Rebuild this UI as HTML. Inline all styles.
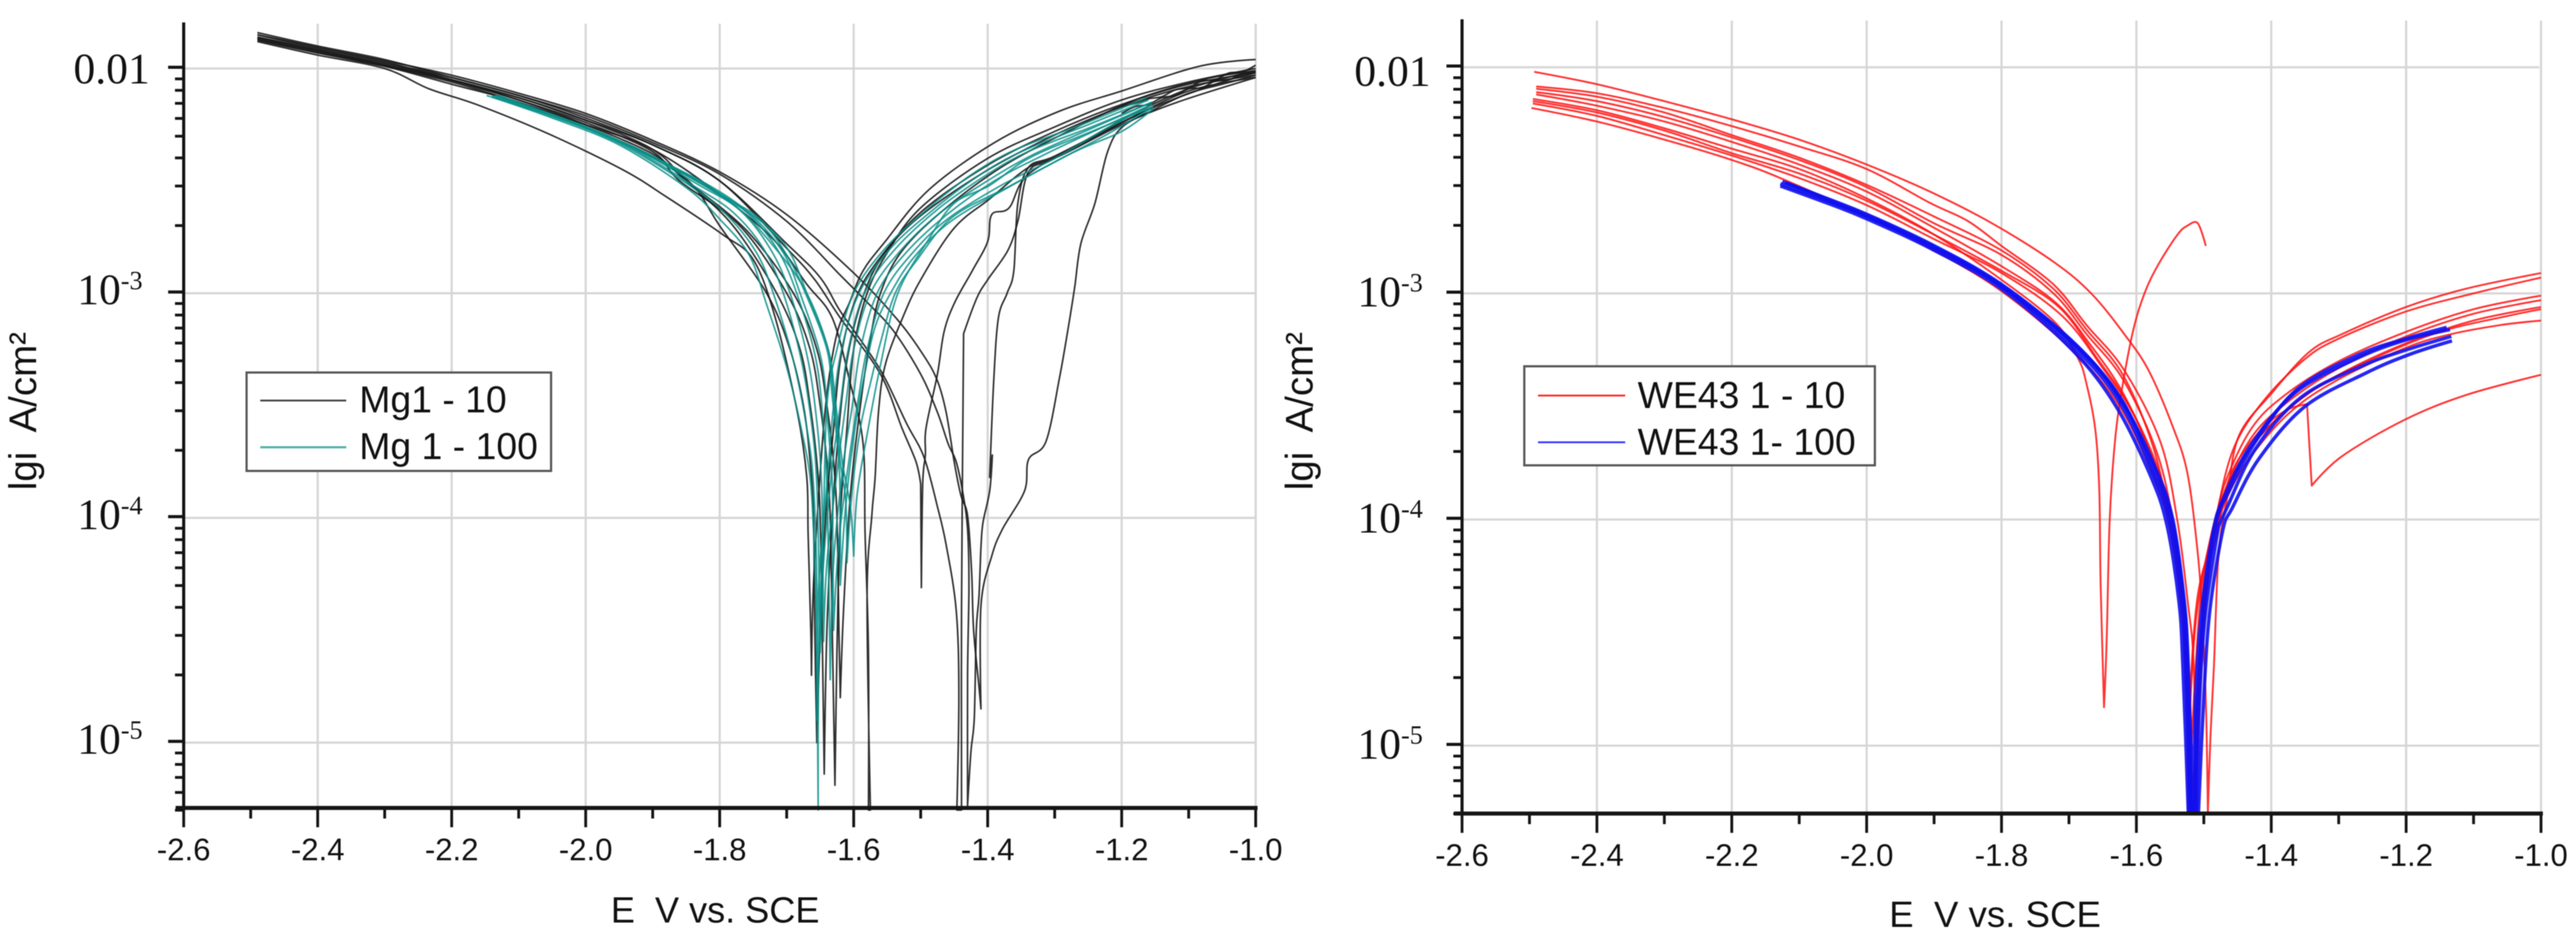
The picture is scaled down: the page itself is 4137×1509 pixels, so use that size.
<!DOCTYPE html>
<html lang="en">
<head>
<meta charset="utf-8">
<title>Polarization curves: Mg1 and WE43</title>
<style>
html,body{margin:0;padding:0;background:#fff;width:4137px;height:1509px;overflow:hidden}
svg{display:block;filter:blur(0.8px)}
text{fill:#111}
.sans{font-family:"Liberation Sans",sans-serif}
.serif{font-family:"Liberation Serif",serif}
.pre{white-space:pre}
</style>
</head>
<body>
<svg id="figure" xmlns="http://www.w3.org/2000/svg" width="4137" height="1509" viewBox="0 0 4137 1509">
  <g id="left-chart"></g>
  <g id="right-chart"></g>

  <text class="sans pre" x="981" y="1481" font-size="58" textLength="335" lengthAdjust="spacingAndGlyphs">E  V vs. SCE</text>
  <text class="sans pre" x="3034" y="1488" font-size="58" textLength="340" lengthAdjust="spacingAndGlyphs">E  V vs. SCE</text>
  <text class="sans pre" transform="translate(58 787) rotate(-90)" font-size="62" textLength="254" lengthAdjust="spacingAndGlyphs">lgi  A/cm²</text>
  <text class="sans pre" transform="translate(2108 787) rotate(-90)" font-size="62" textLength="254" lengthAdjust="spacingAndGlyphs">lgi  A/cm²</text>

  <g>
    <rect x="396" y="598" width="489" height="158" fill="#fff" stroke="#555" stroke-width="3.5"/>
    <line x1="418" y1="643" x2="556" y2="643" stroke="#444" stroke-width="3"/>
    <text class="sans" x="577" y="662" font-size="60">Mg1 - 10</text>
    <line x1="418" y1="718" x2="556" y2="718" stroke="#4fb0a8" stroke-width="3.5"/>
    <text class="sans" x="577" y="737" font-size="60">Mg 1 - 100</text>
  </g>
  <g>
    <rect x="2448" y="588" width="563" height="159" fill="#fff" stroke="#555" stroke-width="3.5"/>
    <line x1="2470" y1="635" x2="2610" y2="635" stroke="#ff2a2a" stroke-width="3"/>
    <text class="sans" x="2630" y="655" font-size="60">WE43 1 - 10</text>
    <line x1="2470" y1="710" x2="2610" y2="710" stroke="#3a3aff" stroke-width="3"/>
    <text class="sans" x="2630" y="730" font-size="60">WE43 1- 100</text>
  </g>
</svg>

<script>
// ---- shared axis data ----
const xMajorTicks = [-2.6,-2.4,-2.2,-2.0,-1.8,-1.6,-1.4,-1.2,-1.0];
const xMinorTicks = [-2.5,-2.3,-2.1,-1.9,-1.7,-1.5,-1.3,-1.1];
const xTickLabels = ["-2.6","-2.4","-2.2","-2.0","-1.8","-1.6","-1.4","-1.2","-1.0"];
const yMajorTicks = [-2,-3,-4,-5];
const yTickBases = ["0.01","10","10","10"];
const yTickExponents = ["","-3","-4","-5"];
const yMinorTicks = [
  -2.046,-2.097,-2.155,-2.222,-2.301,-2.398,-2.523,-2.699,
  -3.046,-3.097,-3.155,-3.222,-3.301,-3.398,-3.523,-3.699,
  -4.046,-4.097,-4.155,-4.222,-4.301,-4.398,-4.523,-4.699,
  -5.046,-5.097,-5.155,-5.222,-5.301
];

// ---- Mg1 - 10 series: [E, lg i] ----
const mg10a = [[-2.49,-1.85],[-2.4,-1.905],[-2.3,-1.965],[-2.2,-2.03],[-2.1,-2.11],[-2,-2.2],[-1.9,-2.32],[-1.8,-2.46],[-1.7,-2.65],[-1.6,-2.91],[-1.534,-3.12],[-1.495,-3.28],[-1.475,-3.39],[-1.462,-3.53],[-1.45,-3.75],[-1.44,-3.9],[-1.43,-3.99],[-1.424,-4.24],[-1.421,-4.5],[-1.413,-4.75],[-1.41,-4.85],[-1.41,-4.39],[-1.394,-4.17],[-1.378,-4.05],[-1.345,-3.88],[-1.339,-3.74],[-1.313,-3.66],[-1.293,-3.38],[-1.279,-3.14],[-1.27,-2.97],[-1.261,-2.78],[-1.24,-2.6],[-1.221,-2.37],[-1.199,-2.26],[-1.15,-2.18],[-1.1,-2.11],[-1.05,-2.07],[-1,-2.03]];
const mg10b = [[-2.49,-1.86],[-2.4,-1.915],[-2.3,-1.975],[-2.2,-2.04],[-2.1,-2.12],[-2,-2.21],[-1.9,-2.33],[-1.8,-2.47],[-1.7,-2.68],[-1.62,-2.92],[-1.58,-3.04],[-1.54,-3.17],[-1.5,-3.36],[-1.475,-3.53],[-1.459,-3.67],[-1.447,-3.75],[-1.437,-3.89],[-1.43,-4.05],[-1.428,-4.3],[-1.43,-4.7],[-1.43,-5.28],[-1.425,-5.04],[-1.42,-4.89],[-1.417,-4.5],[-1.413,-4.35],[-1.41,-4.13],[-1.407,-4.02],[-1.397,-3.88],[-1.393,-3.72],[-1.397,-3.82],[-1.391,-3.39],[-1.384,-3.11],[-1.371,-3],[-1.361,-2.9],[-1.355,-2.6],[-1.339,-2.44],[-1.3,-2.39],[-1.2,-2.24],[-1.1,-2.1],[-1,-2.04]];
const mg10c = [[-2.49,-1.87],[-2.4,-1.925],[-2.3,-1.985],[-2.2,-2.05],[-2.1,-2.13],[-2,-2.23],[-1.9,-2.34],[-1.8,-2.5],[-1.7,-2.78],[-1.65,-2.93],[-1.62,-3.08],[-1.58,-3.25],[-1.553,-3.38],[-1.521,-3.58],[-1.495,-3.73],[-1.475,-3.95],[-1.462,-4.12],[-1.447,-4.41],[-1.443,-4.78],[-1.446,-5.3],[-1.439,-5.3],[-1.439,-4.4],[-1.436,-3.18],[-1.416,-3.02],[-1.4,-2.94],[-1.37,-2.81],[-1.355,-2.68],[-1.339,-2.46],[-1.3,-2.4],[-1.2,-2.23],[-1.1,-2.09],[-1,-2.01]];
const mg10d = [[-2.49,-1.84],[-2.4,-1.9],[-2.3,-1.96],[-2.2,-2.04],[-2.1,-2.12],[-2,-2.22],[-1.9,-2.34],[-1.8,-2.5],[-1.7,-2.8],[-1.658,-2.94],[-1.62,-3.11],[-1.56,-3.36],[-1.528,-3.6],[-1.507,-3.75],[-1.5,-3.85],[-1.499,-4.31],[-1.497,-3.85],[-1.493,-3.72],[-1.492,-3.6],[-1.475,-3.36],[-1.465,-3.17],[-1.449,-3.04],[-1.423,-2.9],[-1.4,-2.77],[-1.394,-2.65],[-1.368,-2.62],[-1.339,-2.47],[-1.25,-2.32],[-1.15,-2.17],[-1.05,-2.06],[-1,-2.02]];
const mg10e = [[-2.49,-1.875],[-2.4,-1.93],[-2.3,-1.99],[-2.2,-2.06],[-2.1,-2.15],[-2,-2.25],[-1.9,-2.36],[-1.8,-2.56],[-1.72,-2.76],[-1.67,-2.96],[-1.632,-3.11],[-1.606,-3.39],[-1.586,-3.67],[-1.583,-4.07],[-1.578,-4.6],[-1.578,-5.3],[-1.575,-5.3],[-1.58,-4.35],[-1.573,-3.99],[-1.568,-3.82],[-1.563,-3.53],[-1.553,-3.32],[-1.527,-3.11],[-1.5,-2.94],[-1.45,-2.71],[-1.397,-2.58],[-1.339,-2.44],[-1.293,-2.39],[-1.2,-2.25],[-1.117,-2.15],[-1,-2.04]];
const mg10f = [[-2.49,-1.88],[-2.4,-1.94],[-2.3,-2],[-2.234,-2.09],[-2.163,-2.16],[-2.056,-2.29],[-1.945,-2.45],[-1.88,-2.57],[-1.795,-2.74],[-1.75,-2.85],[-1.717,-3.11],[-1.684,-3.53],[-1.67,-3.82],[-1.668,-4.07],[-1.664,-4.5],[-1.663,-4.7],[-1.66,-4.3],[-1.65,-3.8],[-1.64,-3.45],[-1.625,-3.18],[-1.606,-3.04],[-1.586,-2.9],[-1.553,-2.77],[-1.488,-2.54],[-1.39,-2.33],[-1.293,-2.19],[-1.2,-2.1],[-1.084,-1.99],[-1,-1.96]];
const mg10g = [[-2.49,-1.86],[-2.4,-1.92],[-2.3,-1.98],[-2.2,-2.05],[-2.1,-2.14],[-2,-2.24],[-1.9,-2.37],[-1.86,-2.5],[-1.77,-2.7],[-1.7,-3],[-1.665,-3.25],[-1.65,-3.5],[-1.64,-3.75],[-1.635,-4],[-1.632,-4.5],[-1.628,-5.19],[-1.625,-4.6],[-1.62,-4],[-1.61,-3.6],[-1.6,-3.25],[-1.58,-3],[-1.55,-2.82],[-1.5,-2.62],[-1.4,-2.4],[-1.3,-2.26],[-1.2,-2.14],[-1.1,-2.06],[-1,-2]];
const mg10h = [[-2.49,-1.85],[-2.4,-1.91],[-2.3,-1.97],[-2.2,-2.05],[-2.1,-2.13],[-2,-2.23],[-1.9,-2.36],[-1.85,-2.5],[-1.78,-2.7],[-1.715,-3],[-1.68,-3.25],[-1.665,-3.5],[-1.655,-3.75],[-1.65,-4],[-1.647,-4.5],[-1.644,-5.14],[-1.64,-4.5],[-1.632,-4],[-1.622,-3.6],[-1.61,-3.3],[-1.59,-3.05],[-1.56,-2.85],[-1.5,-2.64],[-1.4,-2.43],[-1.3,-2.28],[-1.2,-2.16],[-1.1,-2.07],[-1,-2.02]];
const mg10i = [[-2.49,-1.87],[-2.4,-1.93],[-2.3,-1.99],[-2.2,-2.07],[-2.1,-2.15],[-2,-2.26],[-1.9,-2.39],[-1.84,-2.52],[-1.8,-2.7],[-1.73,-3],[-1.695,-3.25],[-1.675,-3.5],[-1.665,-3.75],[-1.66,-4],[-1.658,-4.5],[-1.655,-5],[-1.65,-4.5],[-1.642,-4],[-1.63,-3.6],[-1.62,-3.3],[-1.6,-3.05],[-1.57,-2.88],[-1.51,-2.68],[-1.41,-2.47],[-1.31,-2.31],[-1.2,-2.17],[-1.1,-2.08],[-1,-2.03]];
const mg10j = [[-2.49,-1.865],[-2.4,-1.92],[-2.3,-1.985],[-2.2,-2.055],[-2.1,-2.14],[-2,-2.25],[-1.9,-2.38],[-1.85,-2.5],[-1.76,-2.72],[-1.69,-3],[-1.655,-3.25],[-1.64,-3.5],[-1.63,-3.75],[-1.625,-4],[-1.622,-4.5],[-1.62,-4.8],[-1.615,-4.4],[-1.605,-3.9],[-1.59,-3.5],[-1.575,-3.2],[-1.56,-3],[-1.53,-2.82],[-1.47,-2.64],[-1.38,-2.44],[-1.28,-2.28],[-1.18,-2.14],[-1.08,-2.05],[-1,-2.01]];
const mg10k = [[-1.2,-2.17],[-1.18,-2.155],[-1.16,-2.135],[-1.14,-2.125],[-1.12,-2.095],[-1.1,-2.085],[-1.08,-2.055],[-1.06,-2.05],[-1.04,-2.02],[-1.02,-2.015],[-1,-1.985]];
const mg10l = [[-1.2,-2.2],[-1.18,-2.17],[-1.16,-2.16],[-1.14,-2.13],[-1.12,-2.12],[-1.1,-2.09],[-1.08,-2.085],[-1.06,-2.055],[-1.04,-2.05],[-1.02,-2.025],[-1,-2.015]];

// ---- Mg 1 - 100 series ----
const mg100a = [[-2.148,-2.12],[-2.05,-2.22],[-1.95,-2.34],[-1.85,-2.53],[-1.8,-2.67],[-1.756,-2.83],[-1.73,-3.05],[-1.7,-3.33],[-1.677,-3.62],[-1.664,-3.85],[-1.658,-4.21],[-1.655,-4.6],[-1.653,-5.3],[-1.652,-4.6],[-1.645,-4],[-1.64,-3.5],[-1.625,-3.25],[-1.6,-3],[-1.553,-2.8],[-1.488,-2.62],[-1.423,-2.47],[-1.358,-2.36],[-1.26,-2.25],[-1.163,-2.13]];
const mg100b = [[-2.14,-2.12],[-2.04,-2.22],[-1.945,-2.34],[-1.845,-2.52],[-1.79,-2.65],[-1.745,-2.82],[-1.72,-3],[-1.69,-3.3],[-1.67,-3.6],[-1.66,-3.85],[-1.655,-4.3],[-1.655,-4.9],[-1.652,-4.3],[-1.64,-3.85],[-1.63,-3.5],[-1.618,-3.25],[-1.592,-3],[-1.545,-2.8],[-1.482,-2.63],[-1.415,-2.48],[-1.35,-2.37],[-1.25,-2.25],[-1.16,-2.14]];
const mg100c = [[-2.135,-2.12],[-2.03,-2.23],[-1.935,-2.35],[-1.84,-2.52],[-1.78,-2.64],[-1.735,-2.8],[-1.705,-3],[-1.678,-3.3],[-1.662,-3.6],[-1.655,-3.85],[-1.652,-4.2],[-1.65,-4.6],[-1.645,-4.2],[-1.633,-3.8],[-1.62,-3.5],[-1.608,-3.25],[-1.584,-3],[-1.54,-2.81],[-1.476,-2.63],[-1.405,-2.48],[-1.34,-2.37],[-1.245,-2.26],[-1.155,-2.15]];
const mg100d = [[-2.135,-2.13],[-2.02,-2.24],[-1.925,-2.36],[-1.83,-2.52],[-1.77,-2.63],[-1.725,-2.8],[-1.695,-3],[-1.668,-3.3],[-1.654,-3.6],[-1.648,-3.85],[-1.646,-4.2],[-1.645,-4.55],[-1.64,-4.2],[-1.625,-3.8],[-1.612,-3.5],[-1.6,-3.25],[-1.575,-3],[-1.53,-2.81],[-1.47,-2.64],[-1.395,-2.49],[-1.33,-2.38],[-1.24,-2.26],[-1.155,-2.15]];
const mg100e = [[-2.14,-2.125],[-2.015,-2.25],[-1.915,-2.37],[-1.82,-2.52],[-1.76,-2.64],[-1.715,-2.8],[-1.685,-3],[-1.656,-3.3],[-1.645,-3.6],[-1.64,-3.85],[-1.637,-4.3],[-1.635,-4.72],[-1.63,-4.2],[-1.615,-3.75],[-1.602,-3.5],[-1.59,-3.25],[-1.565,-3],[-1.525,-2.83],[-1.465,-2.66],[-1.39,-2.5],[-1.32,-2.39],[-1.235,-2.27],[-1.155,-2.16]];
const mg100f = [[-2.135,-2.12],[-2.01,-2.25],[-1.91,-2.38],[-1.81,-2.53],[-1.75,-2.66],[-1.705,-2.82],[-1.68,-3],[-1.648,-3.3],[-1.638,-3.6],[-1.632,-3.85],[-1.631,-4.2],[-1.63,-4.5],[-1.622,-4.1],[-1.605,-3.7],[-1.592,-3.45],[-1.58,-3.25],[-1.555,-3],[-1.515,-2.83],[-1.46,-2.67],[-1.38,-2.52],[-1.3,-2.4],[-1.23,-2.28],[-1.155,-2.16]];
const mg100g = [[-2.13,-2.12],[-2,-2.26],[-1.9,-2.39],[-1.8,-2.56],[-1.74,-2.67],[-1.7,-2.83],[-1.672,-3],[-1.64,-3.25],[-1.632,-3.46],[-1.622,-3.75],[-1.62,-4],[-1.62,-4.3],[-1.612,-3.95],[-1.598,-3.6],[-1.583,-3.35],[-1.568,-3.15],[-1.545,-3],[-1.51,-2.84],[-1.455,-2.68],[-1.37,-2.53],[-1.29,-2.4],[-1.22,-2.29],[-1.153,-2.17]];
const mg100h = [[-2.13,-2.125],[-2,-2.265],[-1.9,-2.395],[-1.79,-2.58],[-1.73,-2.7],[-1.695,-2.82],[-1.67,-3],[-1.638,-3.25],[-1.63,-3.46],[-1.62,-3.75],[-1.612,-3.92],[-1.61,-4.2],[-1.603,-3.9],[-1.59,-3.6],[-1.575,-3.4],[-1.56,-3.22],[-1.538,-3],[-1.505,-2.85],[-1.452,-2.66],[-1.365,-2.52],[-1.27,-2.37],[-1.2,-2.28],[-1.153,-2.18]];
const mg100i = [[-2.125,-2.13],[-1.99,-2.27],[-1.89,-2.41],[-1.782,-2.6],[-1.717,-2.8],[-1.67,-3],[-1.638,-3.25],[-1.628,-3.46],[-1.617,-3.75],[-1.605,-3.95],[-1.6,-4.17],[-1.595,-3.9],[-1.58,-3.63],[-1.56,-3.32],[-1.534,-3],[-1.488,-2.76],[-1.45,-2.6],[-1.397,-2.52],[-1.339,-2.4],[-1.253,-2.29],[-1.153,-2.17]];

// ---- WE43 1 - 10 series ----
const we10a = [[-2.493,-2.02],[-2.4,-2.075],[-2.3,-2.15],[-2.2,-2.23],[-2.1,-2.32],[-2,-2.43],[-1.906,-2.55],[-1.814,-2.69],[-1.723,-2.86],[-1.667,-3],[-1.618,-3.18],[-1.582,-3.34],[-1.546,-3.59],[-1.524,-3.8],[-1.509,-4.15],[-1.503,-4.4],[-1.497,-4.8],[-1.494,-5.3],[-1.49,-4.95],[-1.485,-4.65],[-1.478,-4.15],[-1.465,-3.9],[-1.448,-3.63],[-1.399,-3.44],[-1.344,-3.26],[-1.295,-3.18],[-1.2,-3.06],[-1.112,-2.98],[-1,-2.91]];
const we10b = [[-2.49,-2.085],[-2.4,-2.115],[-2.3,-2.18],[-2.2,-2.26],[-2.1,-2.35],[-2,-2.45],[-1.906,-2.6],[-1.85,-2.68],[-1.8,-2.79],[-1.723,-2.96],[-1.674,-3.14],[-1.618,-3.34],[-1.564,-3.66],[-1.539,-4.01],[-1.524,-4.36],[-1.515,-4.65],[-1.512,-5.3],[-1.505,-4.7],[-1.495,-4.3],[-1.48,-3.97],[-1.455,-3.68],[-1.41,-3.47],[-1.35,-3.29],[-1.3,-3.2],[-1.2,-3.08],[-1.1,-3],[-1,-2.93]];
const we10c = [[-2.49,-2.11],[-2.4,-2.15],[-2.3,-2.22],[-2.2,-2.31],[-2.1,-2.41],[-2,-2.53],[-1.9,-2.69],[-1.8,-2.83],[-1.723,-3],[-1.674,-3.18],[-1.62,-3.38],[-1.57,-3.7],[-1.545,-4.02],[-1.53,-4.36],[-1.522,-4.7],[-1.517,-5.3],[-1.51,-4.9],[-1.5,-4.3],[-1.485,-4.05],[-1.47,-3.85],[-1.43,-3.6],[-1.38,-3.45],[-1.3,-3.3],[-1.2,-3.17],[-1.1,-3.07],[-1,-3.01]];
const we10d = [[-2.49,-2.095],[-2.4,-2.13],[-2.3,-2.2],[-2.2,-2.3],[-2.1,-2.4],[-2,-2.52],[-1.9,-2.66],[-1.8,-2.81],[-1.723,-2.98],[-1.674,-3.16],[-1.62,-3.36],[-1.575,-3.68],[-1.55,-4.02],[-1.535,-4.36],[-1.525,-4.7],[-1.52,-5.3],[-1.512,-5],[-1.5,-4.35],[-1.48,-4.05],[-1.46,-3.8],[-1.42,-3.62],[-1.38,-3.52],[-1.347,-3.49],[-1.34,-3.85],[-1.295,-3.72],[-1.203,-3.56],[-1.112,-3.45],[-1,-3.36]];
const we10e = [[-2.495,-2.14],[-2.4,-2.19],[-2.3,-2.27],[-2.2,-2.36],[-2.1,-2.45],[-2,-2.58],[-1.9,-2.74],[-1.8,-2.94],[-1.72,-3.13],[-1.686,-3.29],[-1.674,-3.4],[-1.661,-3.6],[-1.655,-3.87],[-1.653,-4.29],[-1.648,-4.83],[-1.644,-4.53],[-1.64,-4.03],[-1.634,-3.73],[-1.625,-3.49],[-1.606,-3.18],[-1.588,-3],[-1.567,-2.87],[-1.539,-2.74],[-1.524,-2.7],[-1.509,-2.69],[-1.497,-2.79]];
const we10f = [[-2.49,-2.12],[-2.4,-2.17],[-2.3,-2.24],[-2.2,-2.33],[-2.1,-2.43],[-2,-2.55],[-1.9,-2.71],[-1.8,-2.88],[-1.72,-3.04],[-1.67,-3.22],[-1.62,-3.44],[-1.575,-3.74],[-1.55,-4.04],[-1.533,-4.4],[-1.526,-4.8],[-1.523,-5.3],[-1.515,-4.8],[-1.505,-4.35],[-1.49,-4.08],[-1.47,-3.88],[-1.43,-3.64],[-1.38,-3.49],[-1.3,-3.33],[-1.2,-3.19],[-1.1,-3.09],[-1,-3.03]];
const we10g = [[-2.497,-2.18],[-2.4,-2.24],[-2.3,-2.32],[-2.2,-2.41],[-2.128,-2.49],[-2,-2.66],[-1.906,-2.8],[-1.8,-2.99],[-1.692,-3.26],[-1.625,-3.5],[-1.576,-3.8],[-1.551,-4.02],[-1.533,-4.37],[-1.527,-4.66],[-1.522,-5.3],[-1.515,-5.3],[-1.505,-4.6],[-1.49,-4.15],[-1.47,-3.92],[-1.43,-3.68],[-1.37,-3.5],[-1.3,-3.36],[-1.2,-3.22],[-1.1,-3.12],[-1,-3.06]];
const we10h = [[-2.495,-2.16],[-2.4,-2.215],[-2.3,-2.3],[-2.2,-2.39],[-2.1,-2.49],[-2,-2.61],[-1.9,-2.76],[-1.8,-2.91],[-1.71,-3.1],[-1.65,-3.33],[-1.6,-3.56],[-1.56,-3.88],[-1.54,-4.2],[-1.528,-4.6],[-1.524,-5.1],[-1.518,-4.7],[-1.51,-4.4],[-1.495,-4.15],[-1.47,-3.9],[-1.44,-3.72],[-1.39,-3.55],[-1.33,-3.41],[-1.25,-3.29],[-1.15,-3.17],[-1.05,-3.1],[-1,-3.07]];
const we10i = [[-2.495,-2.15],[-2.4,-2.2],[-2.3,-2.28],[-2.2,-2.38],[-2.1,-2.47],[-2,-2.59],[-1.9,-2.74],[-1.8,-2.9],[-1.715,-3.06],[-1.66,-3.28],[-1.61,-3.5],[-1.565,-3.8],[-1.54,-4.12],[-1.527,-4.5],[-1.522,-4.9],[-1.516,-4.55],[-1.507,-4.3],[-1.49,-4.12],[-1.465,-3.9],[-1.43,-3.72],[-1.37,-3.52],[-1.3,-3.38],[-1.2,-3.24],[-1.133,-3.18],[-1.06,-3.14],[-1,-3.12]];

// ---- WE43 1 - 100 series ----
const we100a = [[-2.128,-2.515],[-2.05,-2.6],[-2,-2.66],[-1.906,-2.79],[-1.8,-2.97],[-1.692,-3.24],[-1.625,-3.48],[-1.576,-3.79],[-1.551,-4.01],[-1.533,-4.36],[-1.527,-4.65],[-1.52,-5.3],[-1.511,-5.3],[-1.506,-4.78],[-1.497,-4.4],[-1.478,-4.03],[-1.466,-3.95],[-1.424,-3.69],[-1.356,-3.46],[-1.265,-3.32],[-1.2,-3.25],[-1.133,-3.19]];
const we100b = [[-2.125,-2.505],[-2.05,-2.59],[-2,-2.65],[-1.906,-2.78],[-1.8,-2.96],[-1.692,-3.22],[-1.625,-3.46],[-1.572,-3.77],[-1.546,-4],[-1.529,-4.36],[-1.523,-4.65],[-1.516,-5.3],[-1.515,-5.3],[-1.512,-4.78],[-1.503,-4.4],[-1.486,-4.05],[-1.47,-3.9],[-1.43,-3.67],[-1.365,-3.44],[-1.275,-3.29],[-1.205,-3.21],[-1.135,-3.16]];
const we100c = [[-2.128,-2.525],[-2.05,-2.61],[-2,-2.67],[-1.906,-2.8],[-1.8,-2.98],[-1.695,-3.25],[-1.63,-3.5],[-1.58,-3.8],[-1.555,-4.02],[-1.537,-4.36],[-1.531,-4.65],[-1.523,-5.3],[-1.508,-5.3],[-1.5,-4.78],[-1.491,-4.4],[-1.472,-4.05],[-1.458,-3.95],[-1.418,-3.73],[-1.35,-3.5],[-1.258,-3.35],[-1.195,-3.27],[-1.132,-3.21]];
const we100d = [[-2.12,-2.51],[-2.05,-2.595],[-2,-2.655],[-1.906,-2.785],[-1.8,-2.965],[-1.69,-3.23],[-1.622,-3.47],[-1.574,-3.78],[-1.548,-4],[-1.53,-4.36],[-1.525,-4.65],[-1.518,-5.3],[-1.513,-5.3],[-1.509,-4.78],[-1.5,-4.4],[-1.482,-4.02],[-1.462,-3.87],[-1.42,-3.64],[-1.36,-3.42],[-1.27,-3.27],[-1.2,-3.2],[-1.14,-3.15]];

// ---- drawing ----
const SVG_NS = "http://www.w3.org/2000/svg";

function scaleX(layout, e) { return layout.xLeft + (e + 2.6) * layout.xPerVolt; }
function scaleY(layout, lg) { return layout.yTop + (-2 - lg) * layout.yPerDecade; }

function makeLine(parent, x1, y1, x2, y2, stroke, width) {
  const l = document.createElementNS(SVG_NS, "line");
  l.setAttribute("x1", x1); l.setAttribute("y1", y1);
  l.setAttribute("x2", x2); l.setAttribute("y2", y2);
  l.setAttribute("stroke", stroke); l.setAttribute("stroke-width", width);
  parent.appendChild(l);
  return l;
}

function makeMarks(parent, d, width) {
  const p = document.createElementNS(SVG_NS, "path");
  p.setAttribute("d", d);
  p.setAttribute("fill", "none");
  p.setAttribute("stroke", "#141414");
  p.setAttribute("stroke-width", width);
  parent.appendChild(p);
  return p;
}

// Smooth only gentle bends; sharp reversals keep a corner.
function curvePath(points) {
  let d = "M" + points[0][0].toFixed(1) + " " + points[0][1].toFixed(1);
  function tangent(i) {
    const prev = points[Math.max(i - 1, 0)], cur = points[i], next = points[Math.min(i + 1, points.length - 1)];
    const ax = cur[0] - prev[0], ay = cur[1] - prev[1], bx = next[0] - cur[0], by = next[1] - cur[1];
    if (ax * bx + ay * by <= 0) return [0, 0];
    const la = Math.hypot(ax, ay), lb = Math.hypot(bx, by);
    if (la > 4 * lb || lb > 4 * la) return [0, 0];
    return [(next[0] - prev[0]) / 6, (next[1] - prev[1]) / 6];
  }
  for (let i = 0; i < points.length - 1; i++) {
    const t0 = tangent(i), t1 = tangent(i + 1), p0 = points[i], p1 = points[i + 1];
    d += "C" + (p0[0] + t0[0]).toFixed(1) + " " + (p0[1] + t0[1]).toFixed(1) + " " +
         (p1[0] - t1[0]).toFixed(1) + " " + (p1[1] - t1[1]).toFixed(1) + " " +
         p1[0].toFixed(1) + " " + p1[1].toFixed(1);
  }
  return d;
}

function drawGrid(g, layout) {
  xMajorTicks.slice(1).forEach(function (v) {
    const px = scaleX(layout, v);
    const line = makeLine(g, px, layout.gridTop, px, layout.axisY, "#d6d6d6", 3.5);
    
    
  });
  yMajorTicks.forEach(function (v) {
    const py = scaleY(layout, v);
    const line = makeLine(g, layout.xLeft, py, layout.gridRight, py, "#d6d6d6", 3.5);
    
    
  });
}

function drawSeries(g, layout, curves, color, width, opacity, label) {
  curves.forEach(function (curve) {
    const p = document.createElementNS(SVG_NS, "path");
    const pts = curve.map(function (pt) { return [scaleX(layout, pt[0]), scaleY(layout, pt[1])]; });
    p.setAttribute("d", curvePath(pts));
    p.setAttribute("fill", "none");
    p.setAttribute("stroke", color);
    p.setAttribute("stroke-width", width);
    p.setAttribute("stroke-opacity", opacity);
    p.setAttribute("stroke-linejoin", "round");
    
    
    g.appendChild(p);
  });
}

function drawAxes(g, layout) {
  const xRight = scaleX(layout, -1.0);
  const yAxis = makeMarks(g, "M" + layout.xLeft + " " + layout.axisTop + "V" + (layout.axisY + 3), 5);
  
  
  const xAxis = makeMarks(g, "M" + (layout.xLeft - 13) + " " + layout.axisY + "H" + (xRight + 3), 6.5);
  
  

  let xMajorD = "", xMinorD = "", yMajorD = "", yMinorD = "";
  xMajorTicks.forEach(function (v) { xMajorD += "M" + scaleX(layout, v) + " " + layout.axisY + "v31"; });
  xMinorTicks.forEach(function (v) { xMinorD += "M" + scaleX(layout, v) + " " + layout.axisY + "v17"; });
  yMajorTicks.forEach(function (v) { yMajorD += "M" + (layout.xLeft - 25) + " " + (scaleY(layout, v) - 2) + "h25"; });
  yMinorTicks.forEach(function (v) { yMinorD += "M" + (layout.xLeft - 14) + " " + scaleY(layout, v) + "h14"; });

  const xMajorMarks = makeMarks(g, xMajorD, 4.5);
  
  
  const xMinorMarks = makeMarks(g, xMinorD, 4.5);
  
  
  const yMajorMarks = makeMarks(g, yMajorD, 5);
  
  
  const yMinorMarks = makeMarks(g, yMinorD, 4.5);
  
  

  xMajorTicks.forEach(function (v, i) {
    const t = document.createElementNS(SVG_NS, "text");
    t.setAttribute("class", "sans");
    t.setAttribute("x", scaleX(layout, v));
    t.setAttribute("y", layout.axisY + 84);
    t.setAttribute("font-size", "50");
    t.setAttribute("text-anchor", "middle");
    t.textContent = xTickLabels[i];
    
    
    g.appendChild(t);
  });
  yMajorTicks.forEach(function (v, i) {
    const py = scaleY(layout, v);
    const t = document.createElementNS(SVG_NS, "text");
    t.setAttribute("class", "serif");
    t.setAttribute("font-size", "70");
    const isPlain = yTickExponents[i] === "";
    t.setAttribute("x", isPlain ? layout.plainLabelX : layout.powerLabelX);
    t.setAttribute("y", py + (isPlain ? layout.plainLabelDy : layout.powerLabelDy));
    t.textContent = yTickBases[i];
    if (!isPlain) {
      const sup = document.createElementNS(SVG_NS, "tspan");
      sup.setAttribute("font-size", "42");
      sup.setAttribute("dy", "-24");
      sup.textContent = yTickExponents[i];
      t.appendChild(sup);
    }
    
    
    g.appendChild(t);
  });
}

const leftLayout = { xLeft: 295, xPerVolt: 1076, yTop: 110, yPerDecade: 360.7, axisY: 1297, axisTop: 36, gridTop: 38, gridRight: 2017, plainLabelX: 118, plainLabelDy: 24, powerLabelX: 124, powerLabelDy: 18 };
const rightLayout = { xLeft: 2348, xPerVolt: 1083, yTop: 108, yPerDecade: 363, axisY: 1306, axisTop: 31, gridTop: 33, gridRight: 4078, plainLabelX: 2175, plainLabelDy: 30, powerLabelX: 2180, powerLabelDy: 21 };

const leftGroup = document.getElementById("left-chart");
drawGrid(leftGroup, leftLayout);
drawSeries(leftGroup, leftLayout, [mg10a, mg10b, mg10c, mg10d, mg10e, mg10f, mg10g, mg10h, mg10i, mg10j, mg10k, mg10l], "#1a1a1a", 2.6, 0.9, "mg1-10-curve");
drawSeries(leftGroup, leftLayout, [mg100a, mg100b, mg100c, mg100d, mg100e, mg100f, mg100g, mg100h, mg100i], "#0a8f8a", 2.6, 0.85, "mg1-100-curve");
drawAxes(leftGroup, leftLayout);

const rightGroup = document.getElementById("right-chart");
drawGrid(rightGroup, rightLayout);
drawSeries(rightGroup, rightLayout, [we10a, we10b, we10c, we10d, we10e, we10f, we10g, we10h, we10i], "#ff1010", 3, 0.85, "we43-1-10-curve");
drawSeries(rightGroup, rightLayout, [we100a, we100b, we100c, we100d], "#1010f0", 5.5, 0.9, "we43-1-100-curve");
drawAxes(rightGroup, rightLayout);
</script>
</body>
</html>
